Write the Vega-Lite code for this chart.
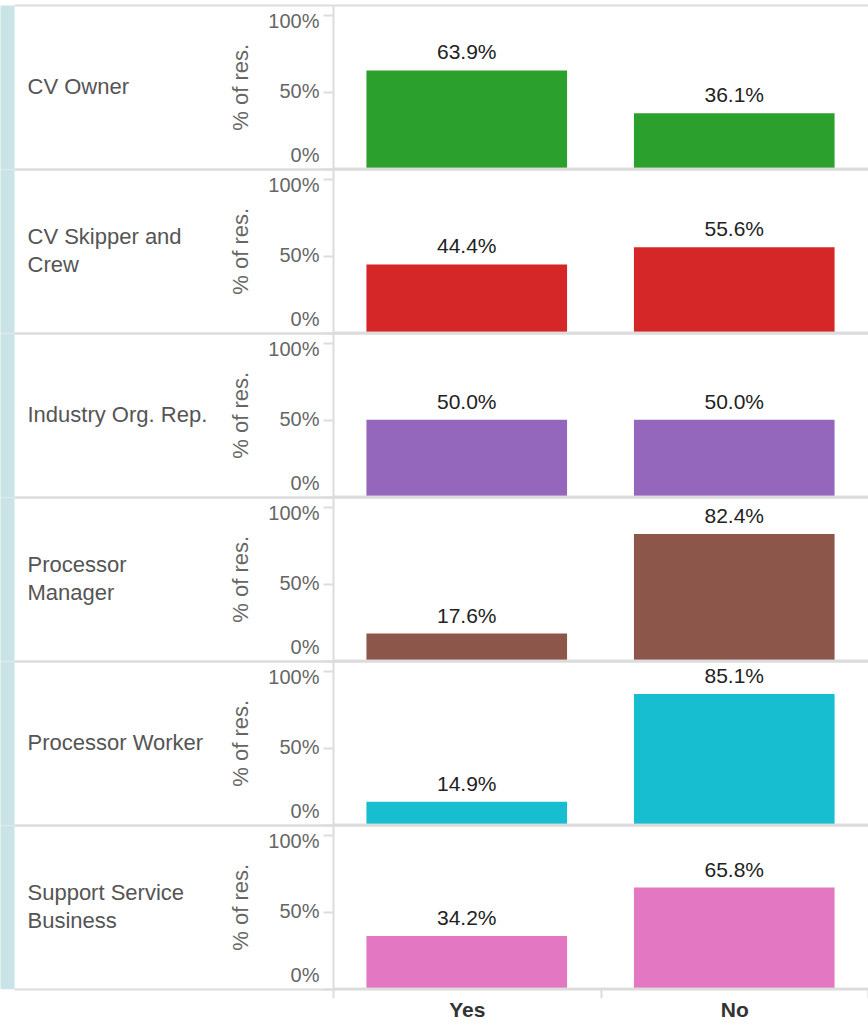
{
  "$schema": "https://vega.github.io/schema/vega-lite/v6.json",
  "padding": {"left": 7, "top": 4, "right": 0, "bottom": 0},
  "autosize": {"type": "pad"},
  "background": "white",
  "bounds": "flush",
  "spacing": 0,
  "config": {
    "font": "Liberation Sans",
    "view": {"stroke": null},
    "axis": {"labelFont": "Liberation Sans", "titleFont": "Liberation Sans"}
  },
  "data": {
    "values": [
      {"group": "CV Owner", "answer": "Yes", "pct": 0.639},
      {"group": "CV Owner", "answer": "No", "pct": 0.361},
      {"group": "CV Skipper and Crew", "answer": "Yes", "pct": 0.444},
      {"group": "CV Skipper and Crew", "answer": "No", "pct": 0.556},
      {"group": "Industry Org. Rep.", "answer": "Yes", "pct": 0.5},
      {"group": "Industry Org. Rep.", "answer": "No", "pct": 0.5},
      {"group": "Processor Manager", "answer": "Yes", "pct": 0.176},
      {"group": "Processor Manager", "answer": "No", "pct": 0.824},
      {"group": "Processor Worker", "answer": "Yes", "pct": 0.149},
      {"group": "Processor Worker", "answer": "No", "pct": 0.851},
      {"group": "Support Service Business", "answer": "Yes", "pct": 0.342},
      {"group": "Support Service Business", "answer": "No", "pct": 0.658}
    ]
  },
  "vconcat": [
    {
      "width": 535, "height": 163.67,
      "transform": [{"filter": {"field": "group", "equal": "CV Owner"}}],
      "layer": [
        {
          "mark": {"type": "bar", "width": {"band": 0.75}},
          "encoding": {
            "x": {"field": "answer", "type": "nominal", "sort": ["Yes", "No"], "scale": {"paddingInner": 0, "paddingOuter": 0}, "axis": null},
            "y": {"field": "pct", "type": "quantitative", "scale": {"domain": [0, 1.065], "nice": false},
              "axis": {"orient": "left", "title": "% of res.", "values": [0, 0.5, 1], "format": ".0%", "grid": false,
                "domainColor": "#dcdcdc", "domainWidth": 2, "tickColor": "#dcdcdc", "tickSize": 10, "tickWidth": 2,
                "labelFontSize": 20, "labelColor": "#666666", "labelPadding": 4, "labelFlush": 12,
                "labelOffset": {"condition": {"test": "datum.value == 0.5", "value": 0}, "value": -3},
                "titleFontSize": 22, "titleFontWeight": "normal", "titleColor": "#666666", "titlePadding": 15}},
            "color": {"field": "group", "type": "nominal", "legend": null,
              "scale": {"domain": ["CV Owner", "CV Skipper and Crew", "Industry Org. Rep.", "Processor Manager", "Processor Worker", "Support Service Business"],
                "range": ["#2ca02c", "#d62728", "#9467bd", "#8c564b", "#17becf", "#e377c2"]}}
          }
        },
        {
          "mark": {"type": "text", "baseline": "bottom", "dy": -7, "fontSize": 21, "color": "#222222"},
          "encoding": {
            "x": {"field": "answer", "type": "nominal", "sort": ["Yes", "No"], "axis": null},
            "y": {"field": "pct", "type": "quantitative", "scale": {"domain": [0, 1.065], "nice": false},
              "axis": {"orient": "left", "values": [0, 1.065], "labels": false, "domain": false,
                "ticks": true, "tickSize": 319, "tickColor": "#dcdcdc", "tickWidth": 2,
                "grid": true, "gridColor": "#dcdcdc", "gridWidth": 2,
                "title": "CV Owner", "titleAngle": 0, "titleAlign": "left", "titleBaseline": "middle",
                "titleX": -306, "titleY": 81.8, "titleFontSize": 22, "titleFontWeight": "normal",
                "titleColor": "#555555", "titleLineHeight": 28}},
            "text": {"field": "pct", "type": "quantitative", "format": ".1%"}
          }
        },
        {
          "mark": {"type": "rule", "color": "#dcdcdc", "strokeWidth": 2},
          "encoding": {
            "y": {"datum": 0, "type": "quantitative",
              "axis": {"orient": "left", "offset": 326, "domain": true, "domainColor": "#c9e3e7", "domainWidth": 14,
                "ticks": false, "labels": false, "grid": false, "title": null}}
          }
        }
      ],
      "resolve": {"axis": {"y": "independent"}}
    },
    {
      "width": 535, "height": 163.67,
      "transform": [{"filter": {"field": "group", "equal": "CV Skipper and Crew"}}],
      "layer": [
        {
          "mark": {"type": "bar", "width": {"band": 0.75}},
          "encoding": {
            "x": {"field": "answer", "type": "nominal", "sort": ["Yes", "No"], "scale": {"paddingInner": 0, "paddingOuter": 0}, "axis": null},
            "y": {"field": "pct", "type": "quantitative", "scale": {"domain": [0, 1.065], "nice": false},
              "axis": {"orient": "left", "title": "% of res.", "values": [0, 0.5, 1], "format": ".0%", "grid": false,
                "domainColor": "#dcdcdc", "domainWidth": 2, "tickColor": "#dcdcdc", "tickSize": 10, "tickWidth": 2,
                "labelFontSize": 20, "labelColor": "#666666", "labelPadding": 4, "labelFlush": 12,
                "labelOffset": {"condition": {"test": "datum.value == 0.5", "value": 0}, "value": -3},
                "titleFontSize": 22, "titleFontWeight": "normal", "titleColor": "#666666", "titlePadding": 15}},
            "color": {"field": "group", "type": "nominal", "legend": null,
              "scale": {"domain": ["CV Owner", "CV Skipper and Crew", "Industry Org. Rep.", "Processor Manager", "Processor Worker", "Support Service Business"],
                "range": ["#2ca02c", "#d62728", "#9467bd", "#8c564b", "#17becf", "#e377c2"]}}
          }
        },
        {
          "mark": {"type": "text", "baseline": "bottom", "dy": -7, "fontSize": 21, "color": "#222222"},
          "encoding": {
            "x": {"field": "answer", "type": "nominal", "sort": ["Yes", "No"], "axis": null},
            "y": {"field": "pct", "type": "quantitative", "scale": {"domain": [0, 1.065], "nice": false},
              "axis": {"orient": "left", "values": [0, 1.065], "labels": false, "domain": false,
                "ticks": true, "tickSize": 319, "tickColor": "#dcdcdc", "tickWidth": 2,
                "grid": true, "gridColor": "#dcdcdc", "gridWidth": 2,
                "title": ["CV Skipper and", "Crew"], "titleAngle": 0, "titleAlign": "left", "titleBaseline": "middle",
                "titleX": -306, "titleY": 67.8, "titleFontSize": 22, "titleFontWeight": "normal",
                "titleColor": "#555555", "titleLineHeight": 28}},
            "text": {"field": "pct", "type": "quantitative", "format": ".1%"}
          }
        },
        {
          "mark": {"type": "rule", "color": "#dcdcdc", "strokeWidth": 2},
          "encoding": {
            "y": {"datum": 0, "type": "quantitative",
              "axis": {"orient": "left", "offset": 326, "domain": true, "domainColor": "#c9e3e7", "domainWidth": 14,
                "ticks": false, "labels": false, "grid": false, "title": null}}
          }
        }
      ],
      "resolve": {"axis": {"y": "independent"}}
    },
    {
      "width": 535, "height": 163.67,
      "transform": [{"filter": {"field": "group", "equal": "Industry Org. Rep."}}],
      "layer": [
        {
          "mark": {"type": "bar", "width": {"band": 0.75}},
          "encoding": {
            "x": {"field": "answer", "type": "nominal", "sort": ["Yes", "No"], "scale": {"paddingInner": 0, "paddingOuter": 0}, "axis": null},
            "y": {"field": "pct", "type": "quantitative", "scale": {"domain": [0, 1.065], "nice": false},
              "axis": {"orient": "left", "title": "% of res.", "values": [0, 0.5, 1], "format": ".0%", "grid": false,
                "domainColor": "#dcdcdc", "domainWidth": 2, "tickColor": "#dcdcdc", "tickSize": 10, "tickWidth": 2,
                "labelFontSize": 20, "labelColor": "#666666", "labelPadding": 4, "labelFlush": 12,
                "labelOffset": {"condition": {"test": "datum.value == 0.5", "value": 0}, "value": -3},
                "titleFontSize": 22, "titleFontWeight": "normal", "titleColor": "#666666", "titlePadding": 15}},
            "color": {"field": "group", "type": "nominal", "legend": null,
              "scale": {"domain": ["CV Owner", "CV Skipper and Crew", "Industry Org. Rep.", "Processor Manager", "Processor Worker", "Support Service Business"],
                "range": ["#2ca02c", "#d62728", "#9467bd", "#8c564b", "#17becf", "#e377c2"]}}
          }
        },
        {
          "mark": {"type": "text", "baseline": "bottom", "dy": -7, "fontSize": 21, "color": "#222222"},
          "encoding": {
            "x": {"field": "answer", "type": "nominal", "sort": ["Yes", "No"], "axis": null},
            "y": {"field": "pct", "type": "quantitative", "scale": {"domain": [0, 1.065], "nice": false},
              "axis": {"orient": "left", "values": [0, 1.065], "labels": false, "domain": false,
                "ticks": true, "tickSize": 319, "tickColor": "#dcdcdc", "tickWidth": 2,
                "grid": true, "gridColor": "#dcdcdc", "gridWidth": 2,
                "title": "Industry Org. Rep.", "titleAngle": 0, "titleAlign": "left", "titleBaseline": "middle",
                "titleX": -306, "titleY": 81.8, "titleFontSize": 22, "titleFontWeight": "normal",
                "titleColor": "#555555", "titleLineHeight": 28}},
            "text": {"field": "pct", "type": "quantitative", "format": ".1%"}
          }
        },
        {
          "mark": {"type": "rule", "color": "#dcdcdc", "strokeWidth": 2},
          "encoding": {
            "y": {"datum": 0, "type": "quantitative",
              "axis": {"orient": "left", "offset": 326, "domain": true, "domainColor": "#c9e3e7", "domainWidth": 14,
                "ticks": false, "labels": false, "grid": false, "title": null}}
          }
        }
      ],
      "resolve": {"axis": {"y": "independent"}}
    },
    {
      "width": 535, "height": 163.67,
      "transform": [{"filter": {"field": "group", "equal": "Processor Manager"}}],
      "layer": [
        {
          "mark": {"type": "bar", "width": {"band": 0.75}},
          "encoding": {
            "x": {"field": "answer", "type": "nominal", "sort": ["Yes", "No"], "scale": {"paddingInner": 0, "paddingOuter": 0}, "axis": null},
            "y": {"field": "pct", "type": "quantitative", "scale": {"domain": [0, 1.065], "nice": false},
              "axis": {"orient": "left", "title": "% of res.", "values": [0, 0.5, 1], "format": ".0%", "grid": false,
                "domainColor": "#dcdcdc", "domainWidth": 2, "tickColor": "#dcdcdc", "tickSize": 10, "tickWidth": 2,
                "labelFontSize": 20, "labelColor": "#666666", "labelPadding": 4, "labelFlush": 12,
                "labelOffset": {"condition": {"test": "datum.value == 0.5", "value": 0}, "value": -3},
                "titleFontSize": 22, "titleFontWeight": "normal", "titleColor": "#666666", "titlePadding": 15}},
            "color": {"field": "group", "type": "nominal", "legend": null,
              "scale": {"domain": ["CV Owner", "CV Skipper and Crew", "Industry Org. Rep.", "Processor Manager", "Processor Worker", "Support Service Business"],
                "range": ["#2ca02c", "#d62728", "#9467bd", "#8c564b", "#17becf", "#e377c2"]}}
          }
        },
        {
          "mark": {"type": "text", "baseline": "bottom", "dy": -7, "fontSize": 21, "color": "#222222"},
          "encoding": {
            "x": {"field": "answer", "type": "nominal", "sort": ["Yes", "No"], "axis": null},
            "y": {"field": "pct", "type": "quantitative", "scale": {"domain": [0, 1.065], "nice": false},
              "axis": {"orient": "left", "values": [0, 1.065], "labels": false, "domain": false,
                "ticks": true, "tickSize": 319, "tickColor": "#dcdcdc", "tickWidth": 2,
                "grid": true, "gridColor": "#dcdcdc", "gridWidth": 2,
                "title": ["Processor", "Manager"], "titleAngle": 0, "titleAlign": "left", "titleBaseline": "middle",
                "titleX": -306, "titleY": 67.8, "titleFontSize": 22, "titleFontWeight": "normal",
                "titleColor": "#555555", "titleLineHeight": 28}},
            "text": {"field": "pct", "type": "quantitative", "format": ".1%"}
          }
        },
        {
          "mark": {"type": "rule", "color": "#dcdcdc", "strokeWidth": 2},
          "encoding": {
            "y": {"datum": 0, "type": "quantitative",
              "axis": {"orient": "left", "offset": 326, "domain": true, "domainColor": "#c9e3e7", "domainWidth": 14,
                "ticks": false, "labels": false, "grid": false, "title": null}}
          }
        }
      ],
      "resolve": {"axis": {"y": "independent"}}
    },
    {
      "width": 535, "height": 163.67,
      "transform": [{"filter": {"field": "group", "equal": "Processor Worker"}}],
      "layer": [
        {
          "mark": {"type": "bar", "width": {"band": 0.75}},
          "encoding": {
            "x": {"field": "answer", "type": "nominal", "sort": ["Yes", "No"], "scale": {"paddingInner": 0, "paddingOuter": 0}, "axis": null},
            "y": {"field": "pct", "type": "quantitative", "scale": {"domain": [0, 1.065], "nice": false},
              "axis": {"orient": "left", "title": "% of res.", "values": [0, 0.5, 1], "format": ".0%", "grid": false,
                "domainColor": "#dcdcdc", "domainWidth": 2, "tickColor": "#dcdcdc", "tickSize": 10, "tickWidth": 2,
                "labelFontSize": 20, "labelColor": "#666666", "labelPadding": 4, "labelFlush": 12,
                "labelOffset": {"condition": {"test": "datum.value == 0.5", "value": 0}, "value": -3},
                "titleFontSize": 22, "titleFontWeight": "normal", "titleColor": "#666666", "titlePadding": 15}},
            "color": {"field": "group", "type": "nominal", "legend": null,
              "scale": {"domain": ["CV Owner", "CV Skipper and Crew", "Industry Org. Rep.", "Processor Manager", "Processor Worker", "Support Service Business"],
                "range": ["#2ca02c", "#d62728", "#9467bd", "#8c564b", "#17becf", "#e377c2"]}}
          }
        },
        {
          "mark": {"type": "text", "baseline": "bottom", "dy": -7, "fontSize": 21, "color": "#222222"},
          "encoding": {
            "x": {"field": "answer", "type": "nominal", "sort": ["Yes", "No"], "axis": null},
            "y": {"field": "pct", "type": "quantitative", "scale": {"domain": [0, 1.065], "nice": false},
              "axis": {"orient": "left", "values": [0, 1.065], "labels": false, "domain": false,
                "ticks": true, "tickSize": 319, "tickColor": "#dcdcdc", "tickWidth": 2,
                "grid": true, "gridColor": "#dcdcdc", "gridWidth": 2,
                "title": "Processor Worker", "titleAngle": 0, "titleAlign": "left", "titleBaseline": "middle",
                "titleX": -306, "titleY": 81.8, "titleFontSize": 22, "titleFontWeight": "normal",
                "titleColor": "#555555", "titleLineHeight": 28}},
            "text": {"field": "pct", "type": "quantitative", "format": ".1%"}
          }
        },
        {
          "mark": {"type": "rule", "color": "#dcdcdc", "strokeWidth": 2},
          "encoding": {
            "y": {"datum": 0, "type": "quantitative",
              "axis": {"orient": "left", "offset": 326, "domain": true, "domainColor": "#c9e3e7", "domainWidth": 14,
                "ticks": false, "labels": false, "grid": false, "title": null}}
          }
        }
      ],
      "resolve": {"axis": {"y": "independent"}}
    },
    {
      "width": 535, "height": 163.67,
      "transform": [{"filter": {"field": "group", "equal": "Support Service Business"}}],
      "layer": [
        {
          "mark": {"type": "bar", "width": {"band": 0.75}},
          "encoding": {
            "x": {"field": "answer", "type": "nominal", "sort": ["Yes", "No"], "scale": {"paddingInner": 0, "paddingOuter": 0},
              "axis": {"title": null, "labelAngle": 0, "domain": false, "tickBand": "extent", "tickSize": 9,
                "tickColor": "#dcdcdc", "tickWidth": 2, "labelFontSize": 21, "labelFontWeight": "bold",
                "labelColor": "#333333", "labelPadding": 2}},
            "y": {"field": "pct", "type": "quantitative", "scale": {"domain": [0, 1.065], "nice": false},
              "axis": {"orient": "left", "title": "% of res.", "values": [0, 0.5, 1], "format": ".0%", "grid": false,
                "domainColor": "#dcdcdc", "domainWidth": 2, "tickColor": "#dcdcdc", "tickSize": 10, "tickWidth": 2,
                "labelFontSize": 20, "labelColor": "#666666", "labelPadding": 4, "labelFlush": 12,
                "labelOffset": {"condition": {"test": "datum.value == 0.5", "value": 0}, "value": -3},
                "titleFontSize": 22, "titleFontWeight": "normal", "titleColor": "#666666", "titlePadding": 15}},
            "color": {"field": "group", "type": "nominal", "legend": null,
              "scale": {"domain": ["CV Owner", "CV Skipper and Crew", "Industry Org. Rep.", "Processor Manager", "Processor Worker", "Support Service Business"],
                "range": ["#2ca02c", "#d62728", "#9467bd", "#8c564b", "#17becf", "#e377c2"]}}
          }
        },
        {
          "mark": {"type": "text", "baseline": "bottom", "dy": -7, "fontSize": 21, "color": "#222222"},
          "encoding": {
            "x": {"field": "answer", "type": "nominal", "sort": ["Yes", "No"],
              "axis": {"title": null, "labelAngle": 0, "domain": false, "tickBand": "extent", "tickSize": 9,
                "tickColor": "#dcdcdc", "tickWidth": 2, "labelFontSize": 21, "labelFontWeight": "bold",
                "labelColor": "#333333", "labelPadding": 2}},
            "y": {"field": "pct", "type": "quantitative", "scale": {"domain": [0, 1.065], "nice": false},
              "axis": {"orient": "left", "values": [0, 1.065], "labels": false, "domain": false,
                "ticks": true, "tickSize": 319, "tickColor": "#dcdcdc", "tickWidth": 2,
                "grid": true, "gridColor": "#dcdcdc", "gridWidth": 2,
                "title": ["Support Service", "Business"], "titleAngle": 0, "titleAlign": "left", "titleBaseline": "middle",
                "titleX": -306, "titleY": 67.8, "titleFontSize": 22, "titleFontWeight": "normal",
                "titleColor": "#555555", "titleLineHeight": 28}},
            "text": {"field": "pct", "type": "quantitative", "format": ".1%"}
          }
        },
        {
          "mark": {"type": "rule", "color": "#dcdcdc", "strokeWidth": 2},
          "encoding": {
            "y": {"datum": 0, "type": "quantitative",
              "axis": {"orient": "left", "offset": 326, "domain": true, "domainColor": "#c9e3e7", "domainWidth": 14,
                "ticks": false, "labels": false, "grid": false, "title": null}}
          }
        }
      ],
      "resolve": {"axis": {"y": "independent"}}
    }
  ]
}
